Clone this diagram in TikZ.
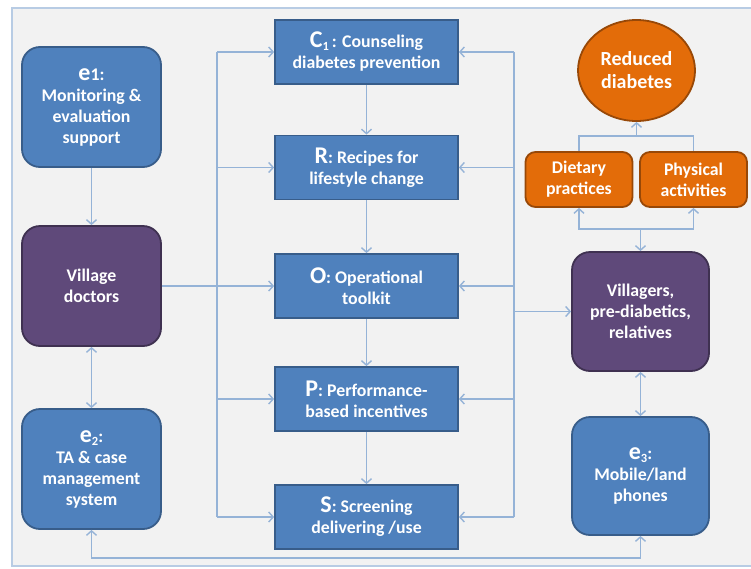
\documentclass[tikz,border=0pt]{standalone}
\usepackage{fontspec}
\setmainfont{Carlito}
\usetikzlibrary{arrows.meta,shapes.geometric}
\definecolor{boxblue}{HTML}{4F81BD}
\definecolor{boxblueb}{HTML}{385D8A}
\definecolor{boxpurp}{HTML}{5F497A}
\definecolor{boxpurpb}{HTML}{3F3151}
\definecolor{boxorg}{HTML}{E36C09}
\definecolor{boxorgb}{HTML}{984807}
\definecolor{linec}{HTML}{95B3D7}
\definecolor{bgc}{HTML}{F2F2F2}
\definecolor{framec}{HTML}{B8CCE4}
\newcommand\mysub[1]{\raisebox{-0.35ex}{\fontsize{12.5}{12}\selectfont #1}}
\newcommand\biglet[1]{{\fontsize{24}{21}\selectfont #1}}
\begin{document}
\begin{tikzpicture}[x=1pt,y=-1pt,
  basebox/.style={align=center, text=white, inner sep=2pt,
    font=\bfseries\fontsize{17.8}{21}\selectfont, line width=1.8pt},
  bigbox/.style={basebox, rounded corners=18pt, minimum width=139pt, minimum height=120pt},
  bluebig/.style={bigbox, fill=boxblue, draw=boxblueb},
  purpbig/.style={bigbox, fill=boxpurp, draw=boxpurpb},
  midbox/.style={basebox, fill=boxblue, draw=boxblueb, minimum width=183pt, minimum height=64pt},
  orgbox/.style={basebox, fill=boxorg, draw=boxorgb, rounded corners=10pt, minimum width=107pt, minimum height=55pt},
  conn/.style={draw=linec, line width=1.4pt},
  arr/.style={conn, -{Straight Barb[length=4.5pt,width=10pt]}},
  darr/.style={conn, {Straight Barb[length=4.5pt,width=10pt]}-{Straight Barb[length=4.5pt,width=10pt]}}]
\useasboundingbox (0,0) rectangle (751,568);
\fill[white] (0,0) rectangle (751,568);
\draw[fill=bgc, draw=framec, line width=1.2pt] (12,8) rectangle (770,566);

% left column
\node[bluebig] (e1) at (91.5,107) {\biglet{e}1:\\Monitoring \&\\evaluation\\support};
\node[purpbig] (vd) at (91.5,286) {Village\\doctors};
\node[bluebig] (e2) at (91.5,469) {\biglet{e}\mysub{2}:\\TA \& case\\management\\system};

% middle column
\node[midbox] (c1) at (366.5,52) {\biglet{C}\mysub{1}\,: Counseling\\diabetes prevention};
\node[midbox] (r) at (366.5,167.5) {\biglet{R}: Recipes for\\lifestyle change};
\node[midbox] (o) at (366.5,286) {\biglet{O}: Operational\\toolkit};
\node[midbox] (p) at (366.5,399) {\biglet{P}: Performance-\\based incentives};
\node[midbox] (s) at (366.5,517) {\biglet{S}: Screening\\delivering /use};

% right column
\node[ellipse, basebox, fill=boxorg, draw=boxorgb, minimum width=117pt, minimum height=101pt,
  font=\bfseries\fontsize{20}{23}\selectfont] (rd) at (636.5,70.5) {Reduced\\diabetes};
\node[orgbox] (diet) at (579,179.5) {Dietary\\practices};
\node[orgbox] (phys) at (693.5,179.5) {Physical\\activities};
\node[purpbig, minimum width=137pt, minimum height=119pt] (vil) at (640.5,311.5) {Villagers,\\pre-diabetics,\\relatives};
\node[bluebig, minimum width=137pt, minimum height=118pt] (e3) at (640.5,476) {\biglet{e}\mysub{3}:\\Mobile/land\\phones};

% left chain
\draw[arr] (e1.south) -- (vd.north);
\draw[darr] (vd.south) -- (e2.north);
\coordinate (bot) at (91.5,558);
\draw[darr] (e2.south) -- (bot) -| (e3.south);

% left bus
\coordinate (lt) at (217,52);
\coordinate (lb) at (217,517);
\draw[conn] (lt) -- (lb);
\draw[arr] (lt) -- (c1.west);
\draw[arr] (lt |- r.west) -- (r.west);
\draw[arr] (vd.east |- o.west) -- (o.west);
\draw[arr] (lt |- p.west) -- (p.west);
\draw[arr] (lb) -- (s.west);

% right bus
\coordinate (rt) at (514,52);
\coordinate (rb) at (514,517);
\draw[conn] (rt) -- (rb);
\draw[arr] (rt) -- (c1.east);
\draw[arr] (rt |- r.east) -- (r.east);
\draw[arr] (rt |- o.east) -- (o.east);
\draw[arr] (rt |- p.east) -- (p.east);
\draw[arr] (rb) -- (s.east);
\draw[arr] (rt |- vil.west) -- (vil.west);

% middle chain
\draw[arr] (c1.south) -- (r.north);
\draw[arr] (r.south) -- (o.north);
\draw[arr] (o.south) -- (p.north);
\draw[arr] (p.south) -- (s.north);

% orange part
\coordinate (ot) at (636.5,136);
\draw[conn] (diet.north) |- (ot) -| (phys.north);
\draw[arr] (ot) -- (rd.south);
\coordinate (ob) at (640.5,229);
\draw[arr] (ob) -| (diet.south);
\draw[arr] (ob) -| (phys.south);
\draw[arr] (ob) -- (vil.north);
\draw[darr] (vil.south) -- (e3.north);
\end{tikzpicture}
\end{document}
